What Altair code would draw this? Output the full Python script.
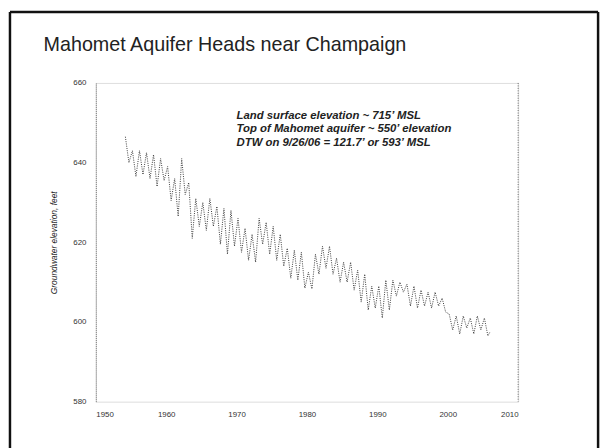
import altair as alt
import pandas as pd

# ---- data (ft above MSL) ----
years = list(range(1954, 2006))
spring_highs = [646.5, 643.0, 643.0, 642.5, 642.0, 641.0, 639.0, 636.0, 641.0, 635.0,
                631.0, 630.0, 631.0, 629.0, 628.5, 628.0, 626.0, 623.5, 622.0, 626.0,
                625.0, 624.0, 622.0, 618.5, 618.0, 617.5, 612.5, 617.0, 619.0, 619.0,
                616.0, 615.0, 615.0, 613.0, 612.0, 609.0, 609.0, 610.5, 610.5, 610.0,
                609.5, 609.0, 608.0, 607.5, 607.5, 606.0, 602.0, 601.5, 601.5, 601.0,
                601.5, 601.0]
fall_lows = [640.0, 636.5, 637.0, 636.0, 634.0, 635.5, 630.5, 626.5, 632.0, 621.0,
             624.0, 623.0, 624.0, 619.5, 617.0, 619.0, 617.5, 615.5, 615.0, 619.5,
             617.0, 615.5, 614.0, 611.0, 610.5, 608.5, 608.3, 612.0, 613.5, 612.0,
             610.0, 610.0, 608.0, 605.0, 603.0, 603.5, 601.0, 603.0, 606.5, 607.5,
             604.0, 603.5, 604.0, 603.5, 604.0, 602.5, 598.0, 597.0, 598.5, 597.0,
             598.0, 596.5]
last_time = 2006.0
last_value = 597.5

y_ticks = [580, 600, 620, 640, 660]
x_ticks = [1950, 1960, 1970, 1980, 1990, 2000, 2010]

notes = ["Land surface elevation ~ 715\u2019 MSL",
         "Top of Mahomet aquifer ~ 550\u2019 elevation",
         "DTW on 9/26/06 = 121.7\u2019 or 593\u2019 MSL"]
note_x = [1970.0, 1970.0, 1970.0]
note_y = [651.8, 648.4, 645.0]

rows = []
for yr, hi, lo in zip(years, spring_highs, fall_lows):
    rows.append({"t": yr + 0.2, "h": hi})
    rows.append({"t": yr + 0.7, "h": lo})
rows.append({"t": last_time, "h": last_value})
df = pd.DataFrame(rows)
notes_df = pd.DataFrame({"x": note_x, "y": note_y, "text": notes})

FONT = "Liberation Sans"

xscale = alt.Scale(domain=[1950, 2010], nice=False, zero=False)
yscale = alt.Scale(domain=[580, 660], nice=False, zero=False)

line = alt.Chart(df).mark_line(
    color="#3a3a3a", strokeWidth=1, strokeDash=[1, 1.3]
).encode(
    x=alt.X("t:Q", scale=xscale,
            axis=alt.Axis(values=x_ticks, format="d", title=None, domain=False,
                          ticks=False, grid=False, labelPadding=9,
                          labelFontSize=8, labelColor="#333", labelFont=FONT)),
    y=alt.Y("h:Q", scale=yscale,
            axis=alt.Axis(values=y_ticks, title="Groundwater elevation, feet",
                          domain=True, domainColor="#777", domainDash=[1, 1],
                          ticks=False, grid=False, labelPadding=10,
                          labelFontSize=8, labelColor="#333", labelFont=FONT,
                          titleFont=FONT, titleFontSize=8.5, titleFontStyle="italic",
                          titleFontWeight="normal", titleColor="#222",
                          titlePadding=14)),
)

right_rule = alt.Chart(pd.DataFrame({"x": [2010]})).mark_rule(
    color="#666", strokeDash=[1, 1.5], strokeWidth=1
).encode(x=alt.X("x:Q", scale=xscale))

text = alt.Chart(notes_df).mark_text(
    align="left", baseline="middle", font=FONT, fontSize=11.5,
    fontStyle="italic", fontWeight="bold", color="#222"
).encode(x=alt.X("x:Q", scale=xscale), y=alt.Y("y:Q", scale=yscale), text="text:N")

frame_left = alt.Chart().mark_rule(color="#111", strokeWidth=2.5).encode(
    x=alt.value(-87), y=alt.value(-72), y2=alt.value(370))
frame_top = alt.Chart().mark_rule(color="#111", strokeWidth=2.5).encode(
    x=alt.value(-87), x2=alt.value(509), y=alt.value(-72))
frame_right = alt.Chart().mark_rule(color="#111", strokeWidth=2.5).encode(
    x=alt.value(509), y=alt.value(-72), y2=alt.value(370))

chart = alt.layer(line, right_rule, text, frame_left, frame_top, frame_right).properties(
    width=428, height=323,
    autosize=alt.AutoSizeParams(type="none"),
    padding={"left": 89, "top": 73, "right": 87, "bottom": 44},
    title=alt.Title("Mahomet Aquifer Heads near Champaign", anchor="start",
                    frame="group", dx=-53, dy=85, offset=24, font=FONT, fontSize=20,
                    fontWeight="normal", color="#222", baseline="alphabetic"),
).configure_view(stroke=None).configure(background="white")

chart.save("out.html", embed_options={"renderer": "svg", "actions": False})
